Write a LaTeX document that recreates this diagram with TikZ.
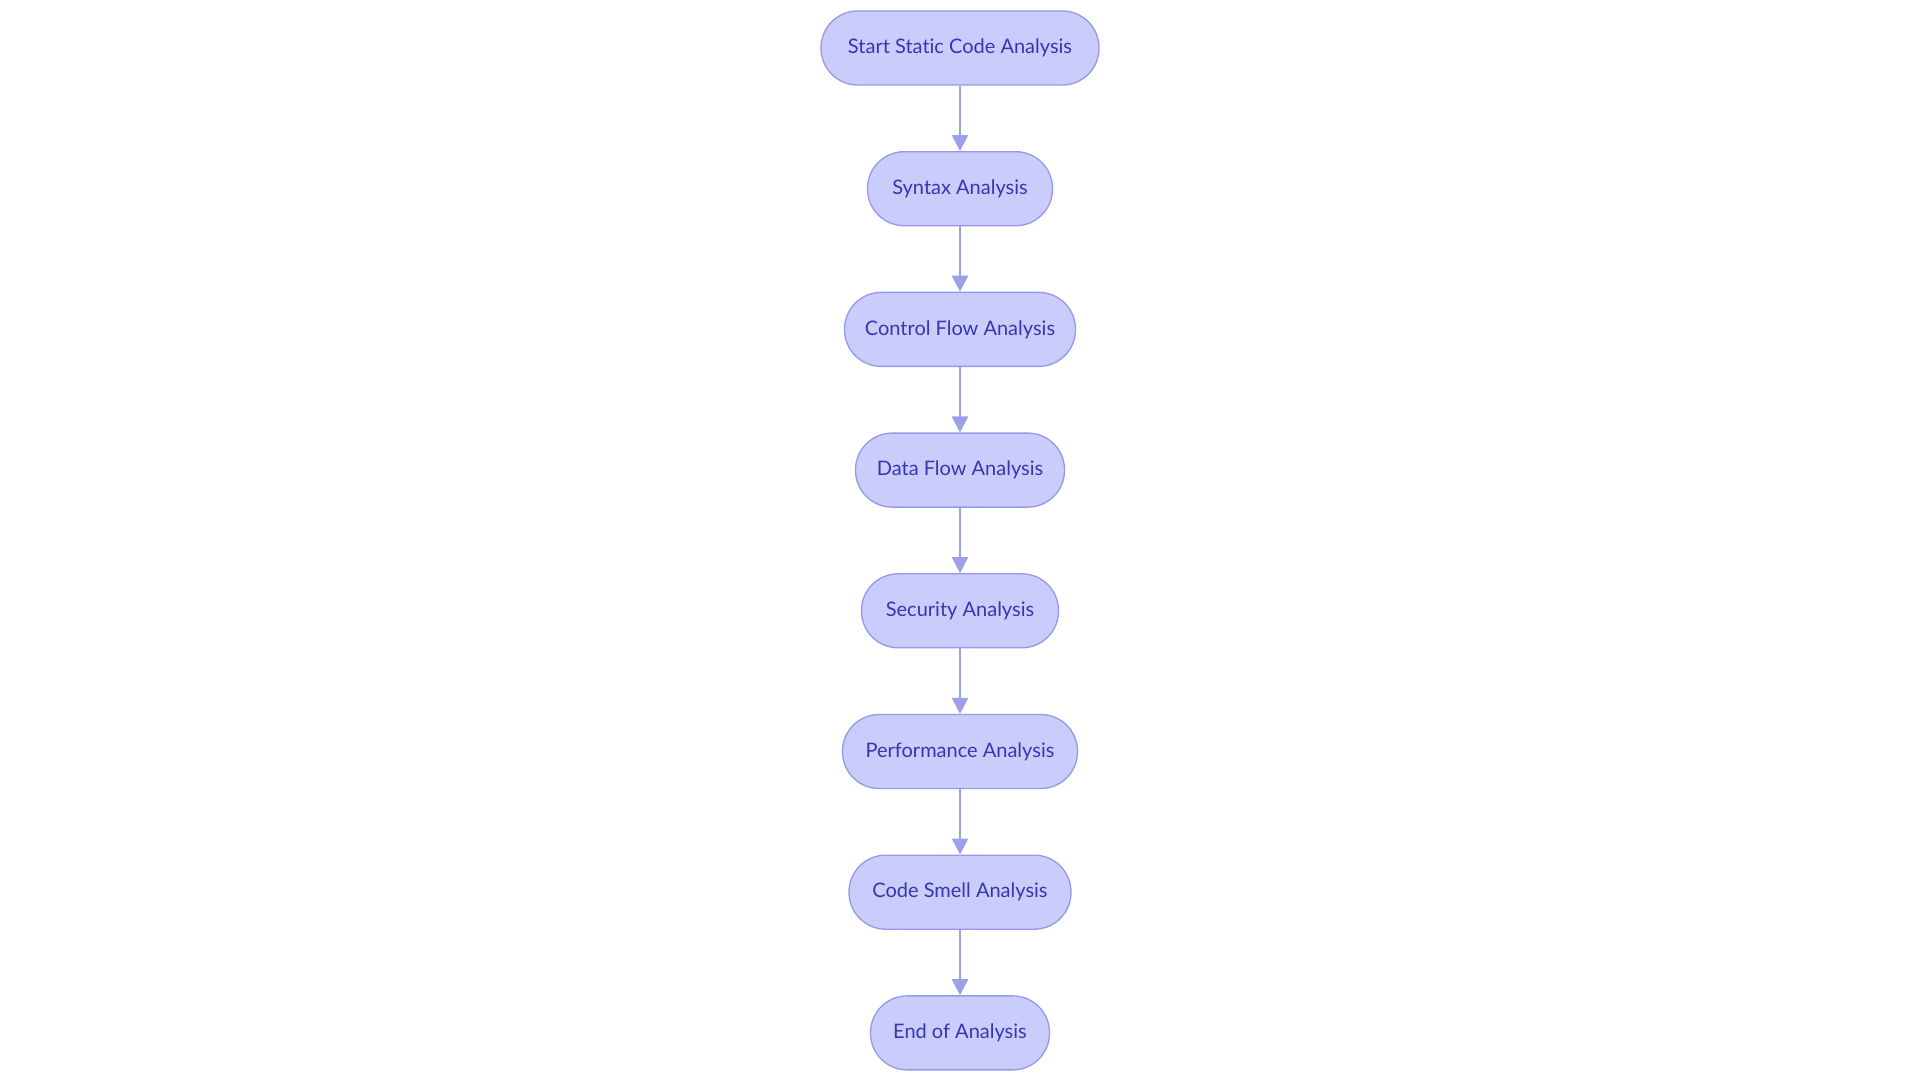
\documentclass[tikz,border=0pt]{standalone}
\usepackage{fontspec}
\setmainfont[Ligatures=NoCommon]{Lato}
\usetikzlibrary{arrows.meta,positioning}
\definecolor{nodefill}{RGB}{202,205,252}
\definecolor{nodedraw}{RGB}{150,154,230}
\definecolor{nodetext}{RGB}{52,55,175}
\definecolor{arrowcol}{RGB}{156,160,234}
\tikzset{
  stage/.style={draw=nodedraw, fill=nodefill, line width=1pt, rounded corners=27.5pt,
    minimum height=55.5pt, inner sep=0pt, text=nodetext, font=\fontsize{15pt}{18pt}\selectfont},
  flow/.style={draw=arrowcol, line width=2pt, -{Triangle[length=12pt,width=12pt,fill=arrowcol]}}
}
\begin{document}
\begin{tikzpicture}[x=0.75pt,y=-0.75pt]
\useasboundingbox (0,0) rectangle (1920,1080);
\node[stage, minimum width=208.5pt] (n1) at (960,48) {Start Static Code Analysis};
\node[stage, minimum width=138.75pt] (n2) at (960,188.7) {Syntax Analysis};
\node[stage, minimum width=173.25pt] (n3) at (960,329.4) {Control Flow Analysis};
\node[stage, minimum width=156.75pt] (n4) at (960,470.1) {Data Flow Analysis};
\node[stage, minimum width=147.75pt] (n5) at (960,610.8) {Security Analysis};
\node[stage, minimum width=176.25pt] (n6) at (960,751.5) {Performance Analysis};
\node[stage, minimum width=166.5pt] (n7) at (960,892.2) {Code Smell Analysis};
\node[stage, minimum width=134.25pt] (n8) at (960,1032.9) {End of Analysis};
\draw[flow] (n1) -- (n2);
\draw[flow] (n2) -- (n3);
\draw[flow] (n3) -- (n4);
\draw[flow] (n4) -- (n5);
\draw[flow] (n5) -- (n6);
\draw[flow] (n6) -- (n7);
\draw[flow] (n7) -- (n8);
\end{tikzpicture}
\end{document}
